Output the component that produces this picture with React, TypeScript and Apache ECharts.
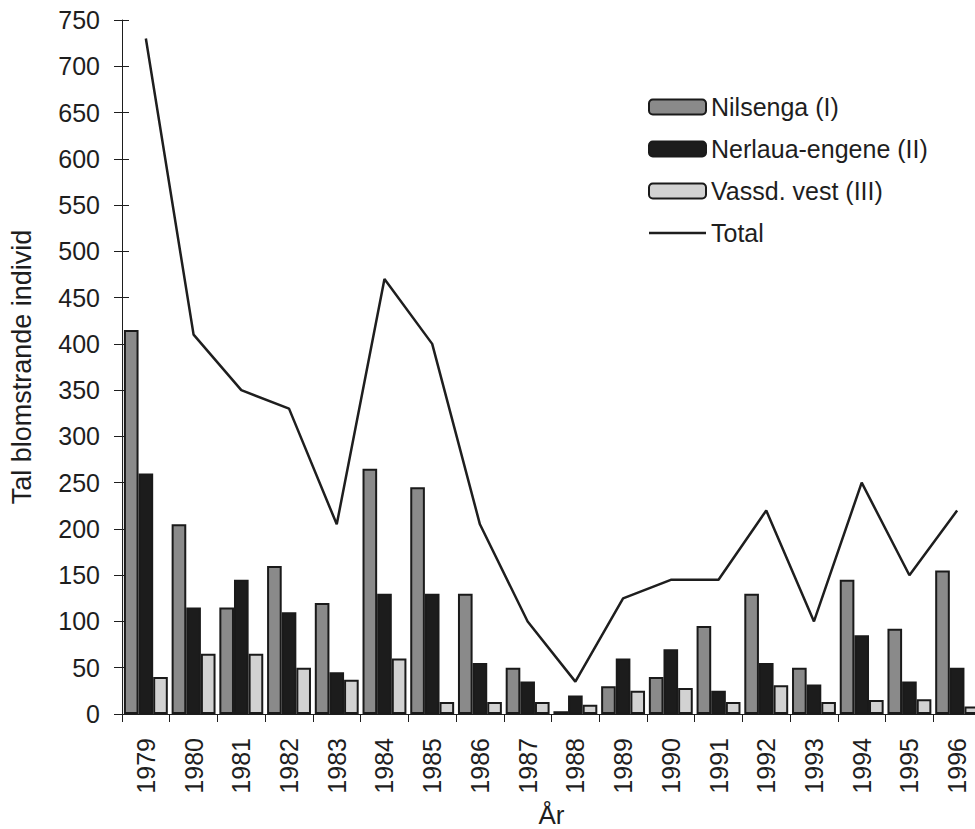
import React, { useEffect, useRef } from "react";
import * as echarts from "echarts";

const years = ["1979","1980","1981","1982","1983","1984","1985","1986","1987","1988","1989","1990","1991","1992","1993","1994","1995","1996"];
const nilsenga = [415, 205, 115, 160, 120, 265, 245, 130, 50, 3, 30, 40, 95, 130, 50, 145, 92, 155];
const nerlaua = [260, 115, 145, 110, 45, 130, 130, 55, 35, 20, 60, 70, 25, 55, 32, 85, 35, 50];
const vassd = [40, 65, 65, 50, 37, 60, 13, 13, 13, 10, 25, 28, 13, 31, 13, 15, 16, 8];
const total = [730, 410, 350, 330, 205, 470, 400, 205, 100, 35, 125, 145, 145, 220, 100, 250, 150, 220];

const FONT = "'Liberation Sans', Arial, sans-serif";
const INK = "#1e1e1e";

export default function App() {
  const ref = useRef<HTMLDivElement>(null);
  useEffect(() => {
    if (!ref.current) return;
    const chart = echarts.init(ref.current, undefined, { renderer: "svg" });
    const barBase = { type: "bar", barGap: "0%", barCategoryGap: "8%" };
    chart.setOption({
      animation: false,
      backgroundColor: "#ffffff",
      textStyle: { fontFamily: FONT, color: INK },
      grid: { left: 122, top: 20, bottom: 115, width: 859, outerBoundsMode: "none", containLabel: false },
      legend: {
        orient: "vertical",
        left: 648,
        top: 93,
        padding: 0,
        itemWidth: 57,
        itemHeight: 15,
        itemGap: 14,
        textStyle: { fontFamily: FONT, fontSize: 25, color: INK, lineHeight: 28 },
        data: [
          "Nilsenga (I)",
          "Nerlaua-engene (II)",
          "Vassd. vest (III)",
          { name: "Total", icon: "path://M0,0 L57,0 L57,2.5 L0,2.5 Z" },
        ],
      },
      xAxis: {
        type: "category",
        data: years,
        name: "År",
        nameLocation: "middle",
        nameGap: 86,
        nameTextStyle: { fontFamily: FONT, fontSize: 26, color: INK },
        axisLine: { lineStyle: { color: INK, width: 1 } },
        axisTick: { show: true, length: 8, lineStyle: { color: INK } },
        axisLabel: { rotate: 90, fontSize: 25, margin: 24, color: INK, fontFamily: FONT },
      },
      yAxis: [
        {
          type: "value",
          min: 0,
          max: 750,
          interval: 50,
          name: "Tal blomstrande individ",
          nameLocation: "middle",
          nameGap: 87,
          nameRotate: 90,
          nameTextStyle: { fontFamily: FONT, fontSize: 27, color: INK },
          axisLine: { show: true, lineStyle: { color: INK, width: 1 } },
          axisTick: { show: true, length: 8, lineStyle: { color: INK } },
          axisLabel: { fontSize: 25, margin: 22, color: INK, fontFamily: FONT },
          splitLine: { show: false },
        },
        {
          type: "value",
          min: 0,
          max: 750,
          interval: 50,
          position: "left",
          offset: 0,
          axisLine: { show: false },
          axisTick: { show: true, inside: true, length: 7, lineStyle: { color: INK } },
          axisLabel: { show: false },
          splitLine: { show: false },
        },
      ],
      series: [
        {
          ...barBase,
          name: "Nilsenga (I)",
          data: nilsenga,
          itemStyle: { color: "#8a8a8a", borderColor: "#1a1a1a", borderWidth: 2 },
        },
        {
          ...barBase,
          name: "Nerlaua-engene (II)",
          data: nerlaua,
          itemStyle: { color: "#1c1c1c", borderColor: "#1a1a1a", borderWidth: 2 },
        },
        {
          ...barBase,
          name: "Vassd. vest (III)",
          data: vassd,
          itemStyle: { color: "#d2d2d2", borderColor: "#1a1a1a", borderWidth: 2 },
        },
        {
          type: "line",
          name: "Total",
          data: total,
          symbol: "none",
          lineStyle: { color: INK, width: 2.5 },
          itemStyle: { color: INK },
          z: 5,
        },
      ],
    });
    return () => chart.dispose();
  }, []);
  return (
    <div
      ref={ref}
      style={{ position: "absolute", left: 0, top: 0, width: 975, height: 829, overflow: "hidden" }}
    />
  );
}
